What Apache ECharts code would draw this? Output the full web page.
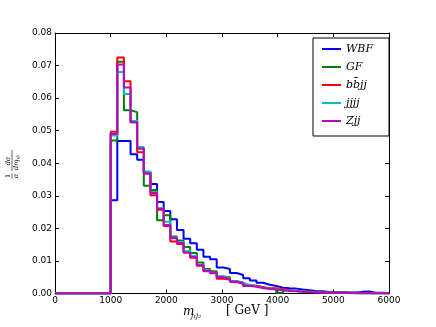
<!DOCTYPE html>
<html><head><meta charset="utf-8">
<script src="https://cdn.jsdelivr.net/npm/echarts@6/dist/echarts.min.js"></script>
<style>html,body{margin:0;padding:0;background:#fff}#c{width:436px;height:327px}</style>
</head><body><div id="c"></div>
<script>
const binStart = 1000, binEnd = 6000, nBins = 42;
const xTicks = [0,1000,2000,3000,4000,5000,6000];
const seriesNames = ['WBF','GF','bb̄jj','jjjj','Zjj'];
const WBF = [0.0286,0.0468,0.0468,0.0428,0.0411,0.0372,0.0336,0.0281,0.0253,0.0228,0.0195,0.0168,0.0154,0.0134,0.0113,0.0105,0.0080,0.0075,0.0063,0.0057,0.0047,0.0040,0.0033,0.0027,0.0023,0.0018,0.0016,0.0015,0.0012,0.0010,0.0008,0.0007,0.0005,0.0004,0.0004,0.0003,0.0003,0.0005,0.0006,0.0002,0.0002,0.0001];
const GF  = [0.0470,0.0712,0.0563,0.0557,0.0445,0.0331,0.0318,0.0225,0.0240,0.0175,0.0163,0.0143,0.0124,0.0095,0.0075,0.0068,0.0052,0.0050,0.0038,0.0034,0.0025,0.0024,0.0018,0.0016,0.0013,0.0002,0.0010,0.0008,0.0007,0.0006,0.0005,0.0004,0.0003,0.0003,0.0005,0.0002,0.0002,0.0001,0.0001,0.0001,0.0001,0.0000];
const BBJJ= [0.0497,0.0725,0.0652,0.0526,0.0434,0.0373,0.0302,0.0257,0.0207,0.0160,0.0152,0.0128,0.0110,0.0085,0.0068,0.0062,0.0045,0.0043,0.0036,0.0030,0.0023,0.0024,0.0020,0.0016,0.0016,0.0014,0.0010,0.0008,0.0007,0.0005,0.0004,0.0004,0.0003,0.0002,0.0002,0.0002,0.0001,0.0001,0.0001,0.0001,0.0001,0.0000];
const JJJJ= [0.0485,0.0680,0.0613,0.0530,0.0450,0.0375,0.0312,0.0262,0.0220,0.0172,0.0158,0.0130,0.0115,0.0088,0.0072,0.0064,0.0052,0.0046,0.0038,0.0032,0.0026,0.0022,0.0018,0.0015,0.0013,0.0011,0.0009,0.0008,0.0006,0.0005,0.0004,0.0003,0.0003,0.0002,0.0002,0.0002,0.0001,0.0001,0.0001,0.0001,0.0000,0.0000];
const ZJJ = [0.0490,0.0703,0.0633,0.0526,0.0445,0.0368,0.0309,0.0260,0.0210,0.0170,0.0155,0.0125,0.0112,0.0087,0.0070,0.0062,0.0050,0.0044,0.0036,0.0031,0.0024,0.0021,0.0017,0.0014,0.0012,0.0010,0.0008,0.0007,0.0005,0.0004,0.0004,0.0003,0.0002,0.0002,0.0002,0.0001,0.0001,0.0001,0.0001,0.0000,0.0000,0.0000];
const allValues = [WBF, GF, BBJJ, JJJJ, ZJJ];
const colors = ['#0000ff','#008000','#ff0000','#00bfbf','#bf00bf'];

const w = (binEnd - binStart) / nBins;
function stepData(vals){
  const d = [[0,0]];
  for (let i=0;i<vals.length;i++) d.push([binStart + i*w, vals[i]]);
  d.push([binEnd, 0]);
  return d;
}
const chart = echarts.init(document.getElementById('c'), null, {renderer:'canvas'});
function axisCommon(){ return {
  type:'value', axisLine:{show:true,onZero:false,lineStyle:{color:'#000',width:1}},
  axisTick:{show:true,inside:true,length:4,lineStyle:{color:'#000'}},
  splitLine:{show:false}
};}
const tickFont = {color:'#000',fontSize:9,fontFamily:'DejaVu Sans'};
chart.setOption({
  animation:false,
  grid:{left:55,right:47,top:33,bottom:33.5,containLabel:false},
  xAxis:[
    Object.assign(axisCommon(), {position:'bottom',min:0,max:6000,interval:1000,
      axisLabel:Object.assign({margin:3,formatter:v=>xTicks.includes(v)?String(v):''},tickFont)}),
    Object.assign(axisCommon(), {position:'top',min:0,max:6000,interval:1000,axisLabel:{show:false}})
  ],
  yAxis:[
    Object.assign(axisCommon(), {position:'left',min:0,max:0.08,interval:0.01,
      axisLabel:Object.assign({margin:3,formatter:v=>v.toFixed(2)},tickFont)}),
    Object.assign(axisCommon(), {position:'right',min:0,max:0.08,interval:0.01,axisLabel:{show:false}})
  ],
  legend:{
    data:seriesNames.map((n,i)=>({name:n,icon:'rect',itemStyle:{color:colors[i]}})),
    orient:'vertical', left:313, top:38, itemWidth:19, itemHeight:2, itemGap:4,
    padding:[4,16,8,9],
    backgroundColor:'#fff', borderColor:'#000', borderWidth:1, borderRadius:0,
    textStyle:{fontFamily:'DejaVu Serif',fontStyle:'italic',fontSize:11,lineHeight:14,color:'#000'},
    itemTextGap:12
  },
  series: allValues.map((vals,i)=>({
    name:seriesNames[i], type:'line', step:'end', data:stepData(vals),
    showSymbol:false, symbol:'none', color:colors[i],
    lineStyle:{color:colors[i],width:2}, z:2+i
  })),
  graphic:[
    {type:'text', left:183, top:306, style:{text:'m',font:'italic 12px DejaVu Serif',fill:'#000'}},
    {type:'text', left:191, top:313, style:{text:'j₁j₂',font:'italic 7px DejaVu Serif',fill:'#000'}},
    {type:'text', left:226, top:305, style:{text:'[ GeV ]',font:'12px DejaVu Serif',fill:'#000'}},
    {type:'group', x:12, y:166, rotation:Math.PI/2, children:[
      {type:'text', x:-10, y:-0.5, style:{text:'1',font:'6.5px DejaVu Serif',fill:'#000',align:'center',verticalAlign:'bottom'}},
      {type:'line', shape:{x1:-12.5,y1:0,x2:-7.5,y2:0}, style:{stroke:'#000',lineWidth:0.6}},
      {type:'text', x:-10, y:0.5, style:{text:'σ',font:'italic 6.5px DejaVu Serif',fill:'#000',align:'center',verticalAlign:'top'}},
      {type:'text', x:5, y:-0.5, style:{text:'dσ',font:'italic 6.5px DejaVu Serif',fill:'#000',align:'center',verticalAlign:'bottom'}},
      {type:'line', shape:{x1:-5,y1:0,x2:16,y2:0}, style:{stroke:'#000',lineWidth:0.6}},
      {type:'text', x:-4, y:0.5, style:{text:'dm',font:'italic 6.5px DejaVu Serif',fill:'#000',align:'left',verticalAlign:'top'}},
      {type:'text', x:5, y:3, style:{text:'j₁j₂',font:'italic 4.5px DejaVu Serif',fill:'#000',align:'left',verticalAlign:'top'}}
    ]}
  ]
});
</script></body></html>
